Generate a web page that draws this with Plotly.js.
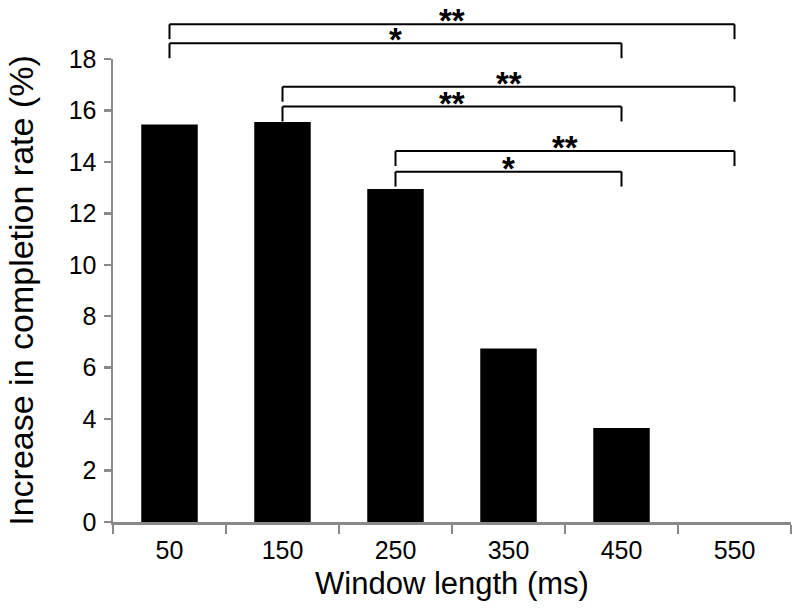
<!DOCTYPE html>
<html>
<head>
<meta charset="utf-8">
<script src="https://cdn.plot.ly/plotly-3.0.1.min.js"></script>
<style>html,body{margin:0;padding:0;background:#fff;}#chart{width:800px;height:614px;}</style>
</head>
<body>
<div id="chart"></div>
<script>
// Data
var windowLengths = ['50', '150', '250', '350', '450', '550'];
var completionIncrease = [15.45, 15.55, 12.95, 6.75, 3.65, 0];
var yTickVals = [0, 2, 4, 6, 8, 10, 12, 14, 16, 18];
var yMax = 18;

// Significance brackets
var bracketFrom = ['50', '50', '150', '150', '250', '250'];
var bracketTo = ['550', '450', '550', '450', '550', '450'];
var bracketLevel = [19.35, 18.61, 16.92, 16.15, 14.42, 13.62];
var bracketLabel = ['**', '*', '**', '**', '**', '*'];
var bracketDrop = 0.58;

(function () {
  var shapes = [];
  var annotations = [];
  var lineStyle = {color: '#000', width: 2};
  for (var i = 0; i < bracketFrom.length; i++) {
    var yLine = bracketLevel[i] / yMax;
    var yEnd = (bracketLevel[i] - bracketDrop) / yMax;
    // category positions as indices on the category axis
    var i0 = windowLengths.indexOf(bracketFrom[i]);
    var i1 = windowLengths.indexOf(bracketTo[i]);
    shapes.push({type: 'line', xref: 'x', yref: 'paper', x0: i0, x1: i1, y0: yLine, y1: yLine, line: lineStyle});
    shapes.push({type: 'line', xref: 'x', yref: 'paper', x0: i0, x1: i0, y0: yEnd, y1: yLine, line: lineStyle});
    shapes.push({type: 'line', xref: 'x', yref: 'paper', x0: i1, x1: i1, y0: yEnd, y1: yLine, line: lineStyle});
    annotations.push({
      xref: 'x', yref: 'paper', x: (i0 + i1) / 2, y: yLine,
      text: '<b>' + bracketLabel[i] + '</b>', showarrow: false,
      xanchor: 'center', yanchor: 'bottom', yshift: -17,
      font: {family: 'Liberation Sans, Arial, sans-serif', size: 33, color: '#000'}
    });
  }

  var trace = {
    type: 'bar',
    x: windowLengths,
    y: completionIncrease,
    width: 0.5,
    marker: {color: '#000', line: {width: 0}},
    hoverinfo: 'x+y'
  };

  var axisColor = '#8a8a8a';
  var layout = {
    width: 800, height: 614,
    margin: {l: 113, r: 9, t: 59, b: 92, pad: 0},
    paper_bgcolor: '#fff', plot_bgcolor: '#fff',
    font: {family: 'Liberation Sans, Arial, sans-serif', color: '#000'},
    showlegend: false,
    bargap: 0.5,
    xaxis: {
      type: 'category',
      range: [-0.5, windowLengths.length - 0.5],
      tickson: 'boundaries',
      ticks: 'outside', ticklen: 9, tickwidth: 2.5, tickcolor: axisColor,
      showline: true, linecolor: axisColor, linewidth: 2.5,
      showgrid: false, zeroline: false,
      ticklabelstandoff: 4,
      tickfont: {size: 25, color: '#000'},
      title: {text: 'Window length (ms)', font: {size: 31, color: '#000'}, standoff: 10}
    },
    yaxis: {
      range: [0, yMax],
      tickvals: yTickVals,
      ticks: 'outside', ticklen: 7, tickwidth: 2.5, tickcolor: axisColor,
      showline: true, linecolor: axisColor, linewidth: 2.5,
      showgrid: false, zeroline: false,
      ticklabelstandoff: 2,
      tickfont: {size: 25, color: '#000'},
      title: {text: 'Increase in completion rate (%)', font: {size: 34, color: '#000'}, standoff: 25}
    },
    shapes: shapes,
    annotations: annotations
  };

  Plotly.newPlot('chart', [trace], layout, {displayModeBar: false, staticPlot: true});
})();
</script>
</body>
</html>
